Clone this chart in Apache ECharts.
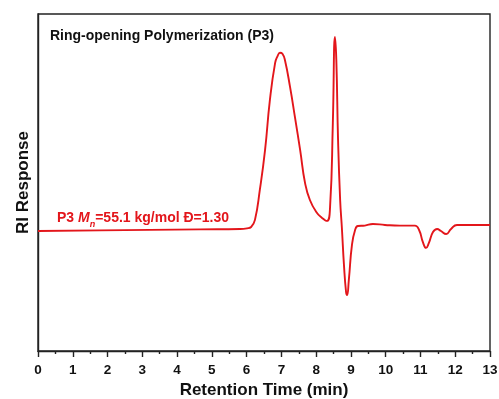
<!DOCTYPE html>
<html>
<head>
<meta charset="utf-8">
<script src="https://cdn.jsdelivr.net/npm/echarts@6/dist/echarts.min.js"></script>
<style>
  html, body { margin: 0; padding: 0; background: #fff; }
  #chart { width: 499px; height: 399px; }
</style>
</head>
<body>
<div id="chart"></div>
<script>
// GPC trace of P3: retention time (min) vs. RI detector response (a.u.)
const retentionTime = [
  0, 1.78, 4.66, 5.81, 6.01, 6.13, 6.24, 6.38, 6.53, 6.67, 6.82, 6.89, 6.96, 7.03,
  7.10, 7.25, 7.39, 7.54, 7.68, 7.82, 8.02, 8.17, 8.31, 8.40, 8.48,
  8.54, 8.58, 8.63, 8.69, 8.74, 8.80, 8.86, 8.89, 8.94, 9.03, 9.12, 9.20, 9.40,
  9.63, 9.98, 10.41, 10.84, 10.96, 11.07, 11.16, 11.24, 11.36, 11.48, 11.59,
  11.74, 11.88, 12.05, 12.42, 13.00
];
const riResponse = [
  35.6, 35.8, 36.1, 36.2, 36.4, 36.8, 38.9, 47.8, 59.6, 74.5, 85.5, 87.5, 88.5, 88.2,
  86.4, 78.3, 69.4, 59.6, 49.9, 44.8, 41.0, 39.5, 38.6, 42.7, 67.7,
  93.2, 86.4, 62.6, 44.8, 36.5, 25.5, 17.5, 16.6, 21.1, 31.5, 35.9, 37.1, 37.2,
  37.7, 37.4, 37.2, 37.2, 35.9, 32.3, 30.6, 32.0, 35.3, 36.2, 35.6,
  34.7, 36.2, 37.4, 37.4, 37.4
];
const xTicks = [0, 1, 2, 3, 4, 5, 6, 7, 8, 9, 10, 11, 12, 13];

const plotTitle = 'Ring-opening Polymerization (P3)';
const xName = 'Retention Time (min)';
const yName = 'RI Response';

const FONT = '"Liberation Sans", Arial, sans-serif';
const lineColor = '#e3161b';

const chart = echarts.init(document.getElementById('chart'), null, { renderer: 'canvas' });
chart.setOption({
  animation: false,
  backgroundColor: '#ffffff',
  grid: {
    left: 38, right: 9, top: 14, bottom: 48,
    outerBoundsMode: 'none',
    containLabel: false,
    show: true, borderColor: '#222', borderWidth: 1.4, backgroundColor: 'transparent'
  },
  xAxis: {
    type: 'value',
    min: xTicks[0],
    max: xTicks[xTicks.length - 1],
    interval: 1,
    name: xName,
    nameLocation: 'middle',
    nameGap: 31,
    nameTextStyle: { fontFamily: FONT, fontWeight: 'bold', fontSize: 17, color: '#111' },
    axisLine: { show: true, lineStyle: { color: '#222', width: 1.4 } },
    axisTick: { show: true, inside: false, length: 6, lineStyle: { color: '#222', width: 1.4 } },
    minorTick: { show: true, splitNumber: 2, length: 3, lineStyle: { color: '#222', width: 1.4 } },
    axisLabel: { fontFamily: FONT, fontWeight: 'bold', fontSize: 13.5, color: '#111', margin: 12 },
    splitLine: { show: false }
  },
  yAxis: {
    type: 'value',
    min: 0,
    max: 100,
    name: yName,
    nameLocation: 'middle',
    nameGap: 6,
    nameRotate: 90,
    nameTextStyle: { fontFamily: FONT, fontWeight: 'bold', fontSize: 17, color: '#111' },
    axisLine: { show: true, lineStyle: { color: '#222', width: 1.4 } },
    axisTick: { show: false },
    axisLabel: { show: false },
    splitLine: { show: false }
  },
  graphic: [
    {
      type: 'text',
      left: 50,
      top: 29,
      style: {
        text: plotTitle,
        fontFamily: FONT, fontWeight: 'bold', fontSize: 14, fill: '#111'
      }
    },
    {
      type: 'text',
      left: 57,
      top: 211,
      style: {
        text: '{a|P3 }{m|M}{n|n}{a|=55.1 kg/mol Đ=1.30}',
        rich: {
          a: { fontFamily: FONT, fontWeight: 'bold', fontSize: 14, fill: lineColor, lineHeight: 18, verticalAlign: 'bottom' },
          m: { fontFamily: FONT, fontWeight: 'bold', fontStyle: 'italic', fontSize: 14, fill: lineColor, lineHeight: 18, verticalAlign: 'bottom' },
          n: { fontFamily: FONT, fontWeight: 'bold', fontStyle: 'italic', fontSize: 9, fill: lineColor, lineHeight: 18, verticalAlign: 'bottom', padding: [0, 0, -4, 0] }
        }
      }
    }
  ],
  series: [{
    type: 'line',
    data: retentionTime.map((t, i) => [t, riResponse[i]]),
    showSymbol: false,
    smooth: 0.5,
    lineStyle: { color: lineColor, width: 1.9 },
    z: 3
  }]
});
</script>
</body>
</html>
